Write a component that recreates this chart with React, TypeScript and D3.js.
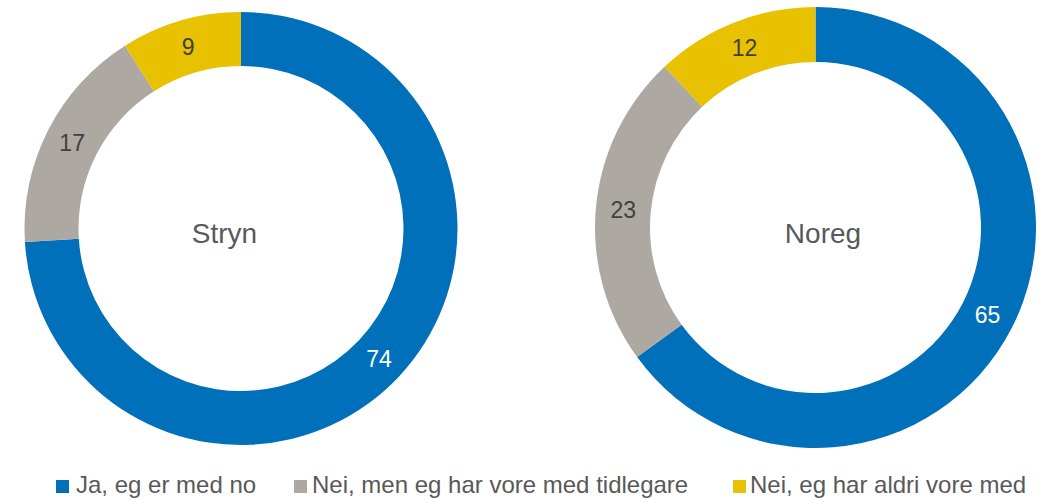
import React from "react";
import * as d3 from "d3";

const categories = ["Ja, eg er med no", "Nei, men eg har vore med tidlegare", "Nei, eg har aldri vore med"];
const regions = ["Stryn", "Noreg"];
const strynValues = [74, 17, 9];
const noregValues = [65, 23, 12];

const colors = ["#0070BA", "#ADA8A1", "#E8C100"];
const labelColors = ["#FFFFFF", "#404040", "#404040"];
const FONT = "'Liberation Sans', Arial, Helvetica, sans-serif";

const donuts = [
  { name: regions[0], values: strynValues, cx: 241, cy: 228.5, ro: 216.5, ri: 162.5, tx: 224.5 },
  { name: regions[1], values: noregValues, cx: 815.5, cy: 227.5, ro: 220.5, ri: 165.5, tx: 823 },
];

const legendPos = [
  { sx: 56, tx: 76 },
  { sx: 294, tx: 312 },
  { sx: 733, tx: 750 },
];

export default function App() {
  const pie = d3.pie<number>().sort(null).value((d) => d).startAngle(0).endAngle(2 * Math.PI);
  return (
    <svg width={1053} height={499} style={{ position: "absolute", left: 0, top: 0, background: "#fff" }}>
      {donuts.map((dn) => {
        const arc = d3.arc<d3.PieArcDatum<number>>().innerRadius(dn.ri).outerRadius(dn.ro);
        const arcs = pie(dn.values);
        return (
          <g key={dn.name}>
            <g transform={`translate(${dn.cx},${dn.cy})`}>
              {arcs.map((a, i) => (
                <path key={i} d={arc(a) || ""} fill={colors[i]} />
              ))}
              {arcs.map((a, i) => {
                const [x, y] = arc.centroid(a);
                return (
                  <text key={"l" + i} x={x} y={y} dy="0.36em" textAnchor="middle" fontFamily={FONT} fontSize={23} fill={labelColors[i]}>
                    {a.data}
                  </text>
                );
              })}
            </g>
            <text x={dn.tx} y={243} textAnchor="middle" fontFamily={FONT} fontSize={28} fill="#595959">
              {dn.name}
            </text>
          </g>
        );
      })}
      {categories.map((c, i) => (
        <g key={c}>
          <rect x={legendPos[i].sx} y={480} width={13} height={13} fill={colors[i]} />
          <text x={legendPos[i].tx} y={493} fontFamily={FONT} fontSize={24} fill="#595959">
            {c}
          </text>
        </g>
      ))}
    </svg>
  );
}
